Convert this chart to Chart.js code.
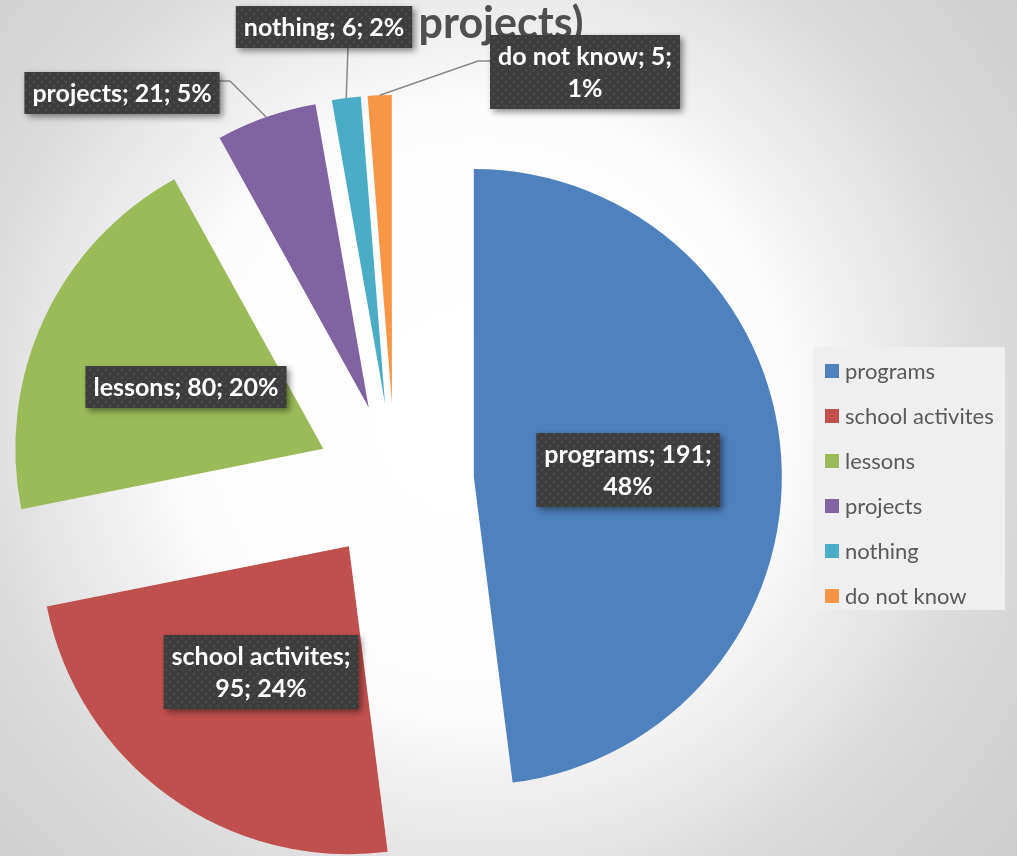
<!DOCTYPE html>
<html>
<head>
<meta charset="utf-8">
<title>projects)</title>
<script src="https://cdn.jsdelivr.net/npm/chart.js@4/dist/chart.umd.min.js"></script>
<style>
  html, body { margin: 0; padding: 0; background: #fff; }
  #chart { display: block; }
</style>
</head>
<body>
<canvas id="chart" width="1017" height="856"></canvas>
<script>
const categories = ['programs', 'school activites', 'lessons', 'projects', 'nothing', 'do not know'];
const counts = [191, 95, 80, 21, 6, 5];
const colors = ['#4F81BD', '#C0504D', '#9BBB59', '#8064A2', '#4BACC6', '#F79646'];
const titleText = 'projects)';

// where the data-label boxes sit (box centre, wrap width, leader line start)
const labelSpots = [
  { cx: 628, cy: 470, wrap: 195 },
  { cx: 261, cy: 672, wrap: 200 },
  { cx: 186, cy: 387, wrap: 300 },
  { cx: 122, cy: 93, wrap: 300, leader: [[219, 81], [230, 81]] },
  { cx: 324, cy: 27, wrap: 300, leader: [[348, 47]] },
  { cx: 585, cy: 72, wrap: 195, leader: [[490, 61], [478, 61]] }
];

const FONT = 'Lato, "Open Sans", sans-serif';
const explode = 79;
const total = counts.reduce((a, b) => a + b, 0);

function dotPattern(ctx) {
  const c = document.createElement('canvas');
  c.width = 8; c.height = 8;
  const p = c.getContext('2d');
  p.fillStyle = '#3d3d3d';
  p.fillRect(0, 0, 8, 8);
  p.fillStyle = '#4d4d4d';
  p.fillRect(1, 1, 2, 2);
  p.fillRect(5, 5, 2, 2);
  return ctx.createPattern(c, 'repeat');
}

function wrapText(ctx, text, maxW) {
  const words = text.split(' ');
  const lines = [];
  let cur = '';
  for (const w of words) {
    const test = cur ? cur + ' ' + w : w;
    if (cur && ctx.measureText(test).width > maxW) {
      lines.push(cur);
      cur = w;
    } else {
      cur = test;
    }
  }
  if (cur) lines.push(cur);
  return lines;
}

const backdrop = {
  id: 'backdrop',
  beforeDraw(chart) {
    const ctx = chart.ctx;
    const g = ctx.createRadialGradient(480, 410, 0, 480, 410, 720);
    g.addColorStop(0, '#ffffff');
    g.addColorStop(0.42, '#fcfcfc');
    g.addColorStop(0.7, '#dcdcdc');
    g.addColorStop(1, '#cbcbcb');
    ctx.save();
    ctx.fillStyle = g;
    ctx.fillRect(0, 0, chart.width, chart.height);

    ctx.fillStyle = '#4f4f4f';
    ctx.font = 'bold 43px ' + FONT;
    ctx.textAlign = 'center';
    ctx.textBaseline = 'alphabetic';
    ctx.fillText(titleText, 501, 38);
    ctx.restore();
  }
};

// pull every slice out along its middle angle
const explodeSlices = {
  id: 'explodeSlices',
  afterDatasetsUpdate(chart) {
    chart.getDatasetMeta(0).data.forEach(arc => {
      const mid = (arc.startAngle + arc.endAngle) / 2;
      arc.x += Math.cos(mid) * explode;
      arc.y += Math.sin(mid) * explode;
    });
  }
};

const dataLabels = {
  id: 'dataLabels',
  afterDatasetsDraw(chart) {
    const ctx = chart.ctx;
    const meta = chart.getDatasetMeta(0);
    const pattern = dotPattern(ctx);
    const lineH = 32;
    ctx.save();
    ctx.font = 'bold 25px ' + FONT;
    meta.data.forEach((arc, i) => {
      const spot = labelSpots[i];
      const pct = Math.round(counts[i] / total * 100);
      const text = `${chart.data.labels[i]}; ${counts[i]}; ${pct}%`;
      const lines = wrapText(ctx, text, spot.wrap);
      const w = Math.max(...lines.map(l => ctx.measureText(l).width)) + 16;
      const h = lines.length * lineH + 10;
      const x0 = spot.cx - w / 2, y0 = spot.cy - h / 2;

      if (spot.leader) {
        const mid = (arc.startAngle + arc.endAngle) / 2;
        const ex = arc.x + Math.cos(mid) * arc.outerRadius;
        const ey = arc.y + Math.sin(mid) * arc.outerRadius;
        ctx.beginPath();
        ctx.moveTo(spot.leader[0][0], spot.leader[0][1]);
        spot.leader.slice(1).forEach(p => ctx.lineTo(p[0], p[1]));
        ctx.lineTo(ex, ey);
        ctx.strokeStyle = '#888888';
        ctx.lineWidth = 1.5;
        ctx.stroke();
      }

      ctx.save();
      ctx.shadowColor = 'rgba(0,0,0,0.45)';
      ctx.shadowBlur = 6;
      ctx.shadowOffsetX = 3;
      ctx.shadowOffsetY = 3;
      ctx.fillStyle = pattern;
      ctx.fillRect(x0, y0, w, h);
      ctx.restore();

      ctx.fillStyle = '#ffffff';
      ctx.textAlign = 'center';
      ctx.textBaseline = 'middle';
      lines.forEach((l, k) => {
        ctx.fillText(l, spot.cx, y0 + 5 + lineH * k + lineH / 2 + 1);
      });
    });
    ctx.restore();
  }
};

const sideLegend = {
  id: 'sideLegend',
  afterDraw(chart) {
    const ctx = chart.ctx;
    ctx.save();
    ctx.fillStyle = '#efefef';
    ctx.fillRect(813, 347, 192, 263);
    ctx.font = '22px ' + FONT;
    ctx.textAlign = 'left';
    ctx.textBaseline = 'middle';
    chart.data.labels.forEach((lab, i) => {
      const y = 371 + i * 45;
      ctx.fillStyle = chart.data.datasets[0].backgroundColor[i];
      ctx.fillRect(825, y - 7, 14, 14);
      ctx.fillStyle = '#595959';
      ctx.fillText(lab, 845, y + 1);
    });
    ctx.restore();
  }
};

new Chart(document.getElementById('chart'), {
  type: 'pie',
  data: {
    labels: categories,
    datasets: [{
      data: counts,
      backgroundColor: colors,
      borderWidth: 0,
      clip: false
    }]
  },
  options: {
    responsive: false,
    animation: false,
    radius: 308,
    layout: { padding: { left: 0, right: 227, top: 108, bottom: 0 } },
    plugins: {
      legend: { display: false },
      tooltip: { enabled: false }
    }
  },
  plugins: [backdrop, explodeSlices, dataLabels, sideLegend]
});
</script>
</body>
</html>
